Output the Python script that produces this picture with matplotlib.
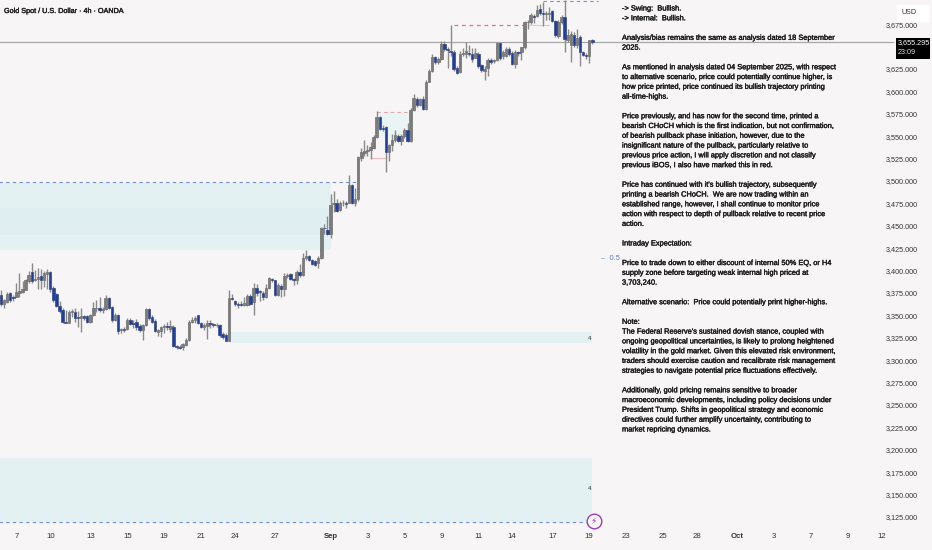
import matplotlib
matplotlib.use("Agg")
import numpy as np
import matplotlib.pyplot as plt
from matplotlib.patches import Rectangle
import matplotlib.patheffects as pe

plt.rcParams['font.family'] = ['Liberation Sans', 'DejaVu Sans']

# 4h candles, one row per bar
opens = [3373,3363,3365,3375,3371,3371,3375,3376,3378,3388,3399,3390,3391,3394,3390,3396,3398,3381,3374,3360,
         3356,3343,3342,3354,3354,3348,3347,3349,3349,3343,3350,3358,3358,3356,3357,3369,3359,3345,3350,3334,
         3335,3335,3345,3341,3343,3338,3334,3339,3357,3348,3344,3332,3333,3337,3338,3335,3337,3316,3315,3315,
         3317,3323,3343,3345,3350,3341,3337,3338,3341,3340,3339,3339,3329,3328,3322,3369,3366,3363,3363,3362,
         3362,3372,3365,3381,3377,3375,3370,3381,3391,3389,3373,3383,3380,3394,3396,3391,3389,3399,3395,3414,
         3416,3412,3411,3408,3414,3448,3445,3441,3474,3476,3468,3475,3476,3476,3495,3475,3480,3526,3531,3534,
         3535,3537,3549,3571,3559,3560,3532,3540,3546,3550,3545,3550,3557,3545,3579,3592,3585,3592,3580,3611,
         3623,3638,3633,3636,3653,3647,3645,3644,3626,3622,3642,3642,3643,3642,3637,3642,3629,3623,3626,3635,
         3634,3635,3654,3639,3640,3647,3643,3631,3644,3644,3649,3677,3677,3684,3684,3692,3688,3686,3686,3690,
         3679,3662,3677,3683,3657,3652,3663,3652,3661,3644,3641,3639,3657]
highs = [3378,3368,3376,3376,3373,3386,3397,3388,3391,3400,3408,3401,3403,3402,3400,3402,3400,3383,3375,3366,
         3358,3356,3356,3357,3358,3355,3358,3351,3351,3352,3365,3367,3370,3359,3373,3371,3361,3353,3352,3336,
         3337,3347,3347,3345,3346,3340,3340,3358,3358,3350,3346,3335,3338,3340,3343,3345,3339,3317,3317,3319,
         3325,3345,3348,3349,3351,3343,3342,3345,3345,3342,3341,3340,3331,3330,3378,3374,3367,3365,3366,3370,
         3374,3374,3386,3385,3378,3377,3385,3393,3392,3390,3386,3385,3397,3397,3397,3392,3401,3407,3420,3423,
         3417,3413,3412,3416,3449,3452,3461,3486,3489,3480,3478,3479,3478,3507,3497,3492,3528,3537,3546,3540,
         3544,3551,3578,3573,3563,3561,3541,3552,3557,3552,3552,3559,3565,3581,3597,3594,3593,3595,3613,3625,
         3642,3640,3638,3656,3656,3650,3674,3646,3628,3645,3648,3655,3652,3648,3648,3644,3631,3628,3637,3637,
         3636,3655,3655,3646,3649,3650,3645,3646,3645,3650,3679,3680,3688,3686,3696,3698,3700,3690,3694,3691,
         3680,3680,3685,3702,3670,3667,3666,3670,3663,3645,3643,3642,3658]
lows = [3361,3358,3364,3365,3366,3370,3371,3375,3378,3386,3386,3388,3380,3380,3382,3380,3376,3365,3359,3353,
        3341,3341,3341,3348,3343,3337,3331,3345,3342,3342,3349,3354,3354,3353,3356,3357,3343,3344,3329,3330,
        3331,3334,3339,3336,3334,3332,3323,3338,3345,3342,3331,3327,3326,3330,3334,3332,3315,3313,3312,3311,
        3316,3322,3341,3341,3340,3336,3334,3324,3336,3337,3337,3326,3324,3321,3321,3367,3361,3358,3360,3360,
        3361,3362,3351,3372,3366,3367,3369,3380,3387,3372,3372,3370,3372,3392,3390,3384,3385,3393,3394,3412,
        3411,3406,3405,3403,3413,3441,3440,3436,3465,3465,3466,3472,3470,3475,3474,3472,3478,3522,3528,3528,
        3525,3536,3548,3557,3556,3510,3522,3534,3543,3543,3540,3548,3544,3544,3578,3583,3584,3579,3579,3610,
        3622,3631,3631,3635,3645,3626,3640,3623,3619,3620,3640,3637,3639,3633,3637,3626,3622,3613,3617,3631,
        3632,3634,3635,3636,3638,3640,3629,3626,3639,3635,3647,3670,3675,3676,3683,3685,3673,3680,3680,3677,
        3661,3660,3675,3644,3655,3633,3650,3648,3628,3639,3636,3632,3653]
closes = [3363,3367,3374,3367,3369,3376,3377,3379,3389,3395,3388,3391,3393,3390,3397,3398,3380,3367,3360,3355,
          3343,3342,3354,3355,3347,3347,3349,3347,3343,3350,3358,3358,3356,3357,3369,3358,3345,3350,3333,3335,
          3334,3345,3340,3340,3337,3334,3339,3357,3347,3343,3333,3334,3337,3338,3337,3338,3316,3315,3314,3318,
          3323,3343,3345,3347,3341,3337,3339,3341,3340,3339,3339,3328,3326,3322,3369,3368,3363,3362,3362,3364,
          3372,3363,3381,3375,3376,3370,3381,3392,3389,3373,3384,3379,3394,3395,3391,3390,3399,3395,3414,3416,
          3412,3407,3406,3414,3448,3447,3441,3473,3475,3467,3476,3476,3474,3495,3476,3480,3527,3532,3534,3535,
          3538,3549,3571,3558,3558,3532,3540,3546,3551,3545,3550,3557,3545,3579,3593,3585,3592,3580,3611,3623,
          3638,3633,3636,3653,3647,3646,3644,3625,3621,3642,3643,3645,3642,3636,3643,3628,3624,3625,3635,3633,
          3635,3654,3637,3644,3647,3642,3631,3644,3643,3649,3677,3678,3685,3683,3691,3687,3686,3687,3687,3679,
          3663,3678,3683,3658,3663,3664,3652,3660,3644,3641,3639,3657,3655]

price_ticks = [3125,3150,3175,3200,3225,3250,3275,3300,3325,3350,3375,3400,3425,3450,3475,3500,
               3525,3550,3575,3600,3625,3675]
time_bars = [5,16,29,41,53,65,76,89,107,119,131,143,155,166,179,191,203,215,226,239,251,263,275,286]
time_labels = ["7","10","13","15","19","21","24","27","Sep","3","5","9","11","14","17","19",
               "23","25","28","Oct","3","7","9","12"]
last_price = 3655.295

note_lines = [
    "-> Swing:  Bullish.",
    "-> Internal:  Bullish.",
    "",
    "Analysis/bias remains the same as analysis dated 18 September",
    "2025.",
    "",
    "As mentioned in analysis dated 04 September 2025, with respect",
    "to alternative scenario, price could potentially continue higher, is",
    "how price printed, price continued its bullish trajectory printing",
    "all-time-highs.",
    "",
    "Price previously, and has now for the second time, printed a",
    "bearish CHoCH which is the first indication, but not confirmation,",
    "of bearish pullback phase initiation, however, due to the",
    "insignificant nature of the pullback, particularly relative to",
    "previous price action, I will apply discretion and not classify",
    "previous iBOS, I also have marked this in red.",
    "",
    "Price has continued with it's bullish trajectory, subsequently",
    "printing a bearish CHoCH.  We are now trading within an",
    "established range, however, I shall continue to monitor price",
    "action with respect to depth of pullback relative to recent price",
    "action.",
    "",
    "Intraday Expectation:",
    "",
    "Price to trade down to either discount of internal 50% EQ, or H4",
    "supply zone before targeting weak internal high priced at",
    "3,703,240.",
    "",
    "Alternative scenario:  Price could potentially print higher-highs.",
    "",
    "Note:",
    "The Federal Reserve's sustained dovish stance, coupled with",
    "ongoing geopolitical uncertainties, is likely to prolong heightened",
    "volatility in the gold market. Given this elevated risk environment,",
    "traders should exercise caution and recalibrate risk management",
    "strategies to navigate potential price fluctuations effectively.",
    "",
    "Additionally, gold pricing remains sensitive to broader",
    "macroeconomic developments, including policy decisions under",
    "President Trump. Shifts in geopolitical strategy and economic",
    "directives could further amplify uncertainty, contributing to",
    "market repricing dynamics.",
]

BG = "#f7f5f6"
UP = "#7c7c7c"
DOWN = "#1d3f9e"
ZONE = "#e4f1f2"
HEAVY = [pe.withStroke(linewidth=0.25, foreground="#1c1c1c")]

fig = plt.figure(figsize=(9.32, 5.5), dpi=100, facecolor=BG)
ax = fig.add_axes([0, 0, 1, 1], facecolor=BG)
ax.set_xlim(-0.32, 302.3)
ax.set_ylim(3088.2, 3702.0)
for side in ax.spines.values():
    side.set_visible(False)


def px(x, y):
    # pixel position in the picture -> axes fraction
    return x / 932, 1 - y / 550


# zones
ax.fill_between([-1, 107], 3423, 3498, color=ZONE, lw=0, zorder=1)
ax.fill_between([-1, 107], 3440, 3470, color="#dfeef0", lw=0, zorder=1)
ax.fill_between([123, 133], 3548, 3577, color="#eaf4f4", lw=0, zorder=1)
ax.fill_between([74, 192], 3319, 3331, color=ZONE, lw=0, zorder=1)
ax.fill_between([-1, 192], 3120, 3191, color=ZONE, lw=0, zorder=1)

# level lines
ax.plot([-1, 116], [3499, 3499], color="#6f8fe0", lw=0.8, ls=(0, (3, 3)), zorder=2)
ax.plot([-1, 190], [3120, 3120], color="#6f8fe0", lw=0.8, ls=(0, (3, 3)), zorder=2)
ax.plot([176, 194], [3701, 3701], color="#6f8fe0", lw=0.8, ls=(0, (3, 3)), zorder=2)
ax.plot([122, 133], [3577, 3577], color="#eba0a6", lw=0.8, ls=(0, (3, 3)), zorder=2)
ax.plot([147, 170], [3674, 3674], color="#e8707a", lw=0.9, ls=(0, (3, 3)), zorder=2)
ax.plot([171, 178], [3674, 3674], color="#d0d0d0", lw=0.8, zorder=2)
ax.plot([120, 125], [3526, 3526], color="#f0bcc0", lw=0.8, zorder=2)
ax.plot([-1, 289.5], [last_price, last_price], color="#a8a8a8", lw=0.9, zorder=2)

# candles
bars = np.arange(len(closes))
o, h, l, c = map(np.array, (opens, highs, lows, closes))
rising = c >= o
ax.vlines(bars, l, h, color="#8a8a8a", lw=1.0, zorder=3)
ax.bar(bars[rising], (c - o)[rising], bottom=o[rising], width=0.8,
       color=UP, edgecolor="#707070", lw=0.5, zorder=4)
ax.bar(bars[~rising], (o - c)[~rising], bottom=c[~rising], width=0.8,
       color=DOWN, edgecolor="#3a4a80", lw=0.5, zorder=4)

# axes labels sit inside the picture
ax.yaxis.tick_right()
ax.set_yticks(price_ticks)
ax.set_yticklabels([f"{p:,.3f}" for p in price_ticks])
ax.set_xticks(time_bars)
ax.set_xticklabels(time_labels)
ax.tick_params(axis="y", length=0, direction="in", pad=-33, labelsize=5.2, labelcolor="#333333")
ax.tick_params(axis="x", length=0, direction="in", pad=-12.5, labelsize=5.6, labelcolor="#333333")
for t in ax.get_xticklabels():
    if t.get_text() in ("Sep", "Oct"):
        t.set_fontweight("bold")

ax.text(*px(4, 11.5), "Gold Spot / U.S. Dollar · 4h · OANDA", transform=ax.transAxes,
        fontsize=5.2, color="#222222", va="center", zorder=6, path_effects=HEAVY)

# note panel
for n, line in enumerate(note_lines):
    ax.text(*px(622, 9 + 9.79 * n), line, transform=ax.transAxes, fontsize=5.35,
            color="#1c1c1c", va="center", ha="left", zorder=6, path_effects=HEAVY)

# small drawing labels
ax.text(*px(590, 338), "4", transform=ax.transAxes, fontsize=4.5, color="#333333", ha="center", va="center", zorder=6)
ax.text(*px(590, 488), "4", transform=ax.transAxes, fontsize=4.5, color="#333333", ha="center", va="center", zorder=6)
ax.text(*px(601, 258), "–  0.5", transform=ax.transAxes, fontsize=5.5, color="#5b7fc7", va="center", zorder=6)

# lightning marker on the time axis
ax.plot(*px(593.5, 521), transform=ax.transAxes, marker="o", ms=10.5, mfc=BG, mec="#9c3fb5", mew=1.0, zorder=7)
ax.text(*px(593.5, 521), "\u26a1", transform=ax.transAxes, family="DejaVu Sans", fontsize=6.5,
        color="#9c3fb5", ha="center", va="center", zorder=8)

# USD box and last price tag
ax.add_patch(Rectangle(px(897, 22), 33 / 932, 17 / 550, transform=ax.transAxes, fc="white", ec="none", zorder=6))
ax.text(*px(902, 12.5), "USD", transform=ax.transAxes, fontsize=5.2, color="#333333", va="center", zorder=7)
ax.add_patch(Rectangle(px(896, 59), 33.5 / 932, 21 / 550, transform=ax.transAxes, fc="black", ec="none", zorder=6))
ax.text(*px(898, 43), f"{last_price:,.3f}", transform=ax.transAxes, fontsize=5.2, color="white", va="center", zorder=7)
ax.text(*px(898, 53), "23:09", transform=ax.transAxes, fontsize=5.2, color="#dddddd", va="center", zorder=7)

fig.savefig("out.png", dpi=100, facecolor=BG)
